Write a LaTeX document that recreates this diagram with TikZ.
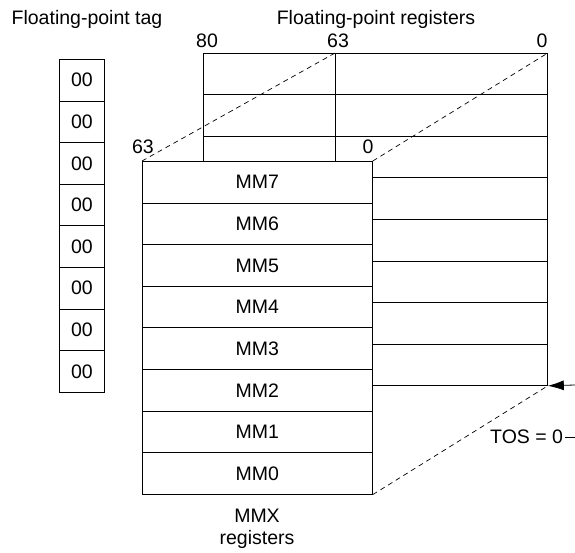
\documentclass[tikz,border=0pt]{standalone}
\usepackage{fontspec}
\setmainfont{Liberation Sans}
\usetikzlibrary{arrows.meta}
\begin{document}
\begin{tikzpicture}[x=1pt,y=-1pt,
  every node/.style={font=\fontsize{19.5}{22}\selectfont},
  cell/.style={draw,line width=0.8pt,inner sep=0pt,anchor=north west},
  lbl/.style={inner sep=0pt},
  projline/.style={line width=0.7pt,dash pattern=on 5pt off 4pt}
]
\useasboundingbox (0,0) rectangle (575,553);
% headers
\node[lbl] (tagh) at (87,19) {Floating-point tag};
\node[lbl] (fph) at (376,19) {Floating-point registers};
\node[lbl] (b80) at (207,41) {80};
\node[lbl] (b63) at (338,41) {63};
\node[lbl] (b0) at (542,41) {0};
% tag column
\foreach \i in {0,...,7}{
  \node[cell,minimum width=45pt,minimum height=41.6pt] (t\i) at (59,{59+41.6*\i}) {00};
}
% floating-point registers
\foreach \i in {0,...,7}{
  \node[cell,minimum width=132pt,minimum height=41.5pt] (fl\i) at (203,{53+41.5*\i}) {};
  \node[cell,minimum width=212pt,minimum height=41.5pt] (fr\i) at (335,{53+41.5*\i}) {};
}
% MMX registers
\foreach \i/\n in {0/7,1/6,2/5,3/4,4/3,5/2,6/1,7/0}{
  \node[cell,fill=white,minimum width=230pt,minimum height=41.6pt] (m\n) at (142,{161+41.6*\i}) {MM\n};
}
\node[lbl] (m63) at (143,147) {63};
\node[lbl] (m0l) at (368,147) {0};
\node[lbl,align=center] (mmx) at (257,529) {MMX\\registers};
% dashed projections
\draw[projline] (m7.north west) -- (fr0.north west);
\draw[projline] (m7.north east) -- (fr0.north east);
\draw[projline] (m0.south east) -- (fr7.south east);
% TOS
\node[lbl,anchor=west,inner xsep=2pt] (tos) at (488,437) {TOS = 0};
\coordinate (tosend) at (575,437);
\draw[line width=0.8pt] (tos.east) -- (tosend);
\coordinate (arrstart) at (575,385);
\draw[line width=0.8pt,-{Latex[length=16pt,width=10pt]}] (arrstart) -- (fr7.south east);
\end{tikzpicture}
\end{document}
